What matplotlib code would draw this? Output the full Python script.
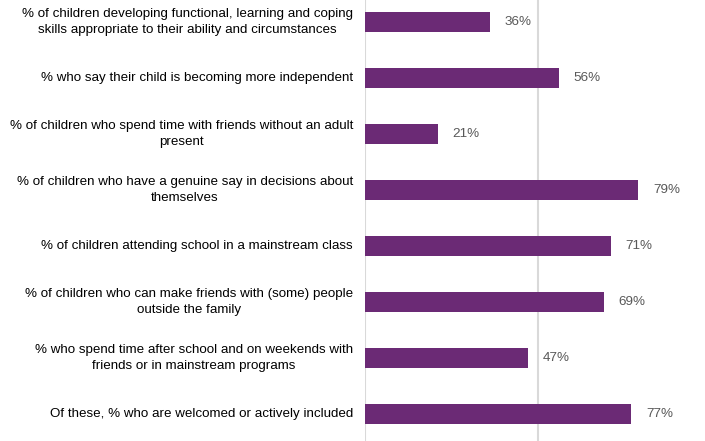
import matplotlib
matplotlib.use("Agg")
import matplotlib.pyplot as plt

labels = [
    "% of children developing functional, learning and coping\nskills appropriate to their ability and circumstances",
    "% who say their child is becoming more independent",
    "% of children who spend time with friends without an adult\npresent",
    "% of children who have a genuine say in decisions about\nthemselves",
    "% of children attending school in a mainstream class",
    "% of children who can make friends with (some) people\noutside the family",
    "% who spend time after school and on weekends with\nfriends or in mainstream programs",
    "Of these, % who are welcomed or actively included",
]
values = [36, 56, 21, 79, 71, 69, 47, 77]

BAR_COLOR = "#6B2A75"
GRID_COLOR = "#D9D9D9"
TEXT_COLOR = "#595959"

plt.rcParams["font.family"] = ["Liberation Sans", "DejaVu Sans"]

fig = plt.figure(figsize=(7.05, 4.41), dpi=100)
# plot area runs off the right edge of the image, as in the original crop
ax = fig.add_axes([365 / 705, 0, 346 / 705, 1])

pos = list(range(len(values)))
ax.barh(pos, values, height=0.36, color=BAR_COLOR, zorder=3)

ax.set_xlim(0, 100)
ax.set_ylim(7.482, -0.393)

for x in (0, 50, 100):
    ax.axvline(x, color=GRID_COLOR, linewidth=1.5, zorder=1)

for i, v in enumerate(values):
    ax.text(v + 4.3, i, f"{v}%", va="center", ha="left", fontsize=9.7,
            color=TEXT_COLOR)

for i, lab in enumerate(labels):
    ax.text(-3.5, i, lab, va="center", ha="right", multialignment="center",
            fontsize=9.6, color="#000000", linespacing=1.4)

ax.set_xticks([])
ax.set_yticks([])
for s in ax.spines.values():
    s.set_visible(False)

fig.savefig("out.png", dpi=100)
